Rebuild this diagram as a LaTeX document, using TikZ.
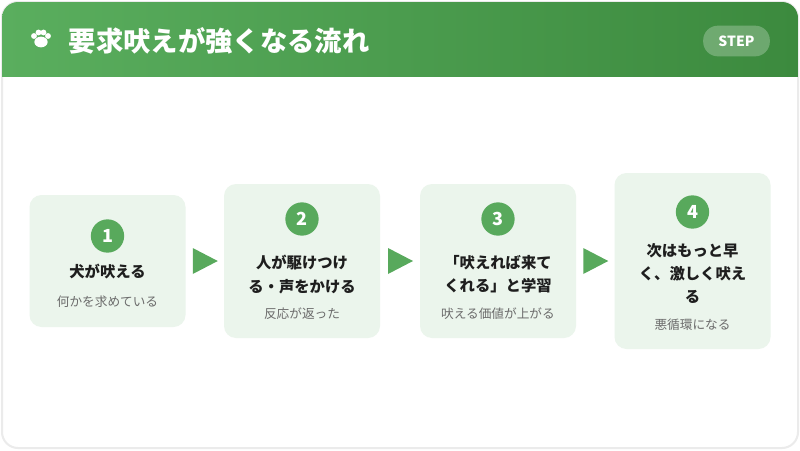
\documentclass[tikz,border=0pt]{standalone}
\usepackage{fontspec}
\setmainfont{Noto Sans CJK JP}
\usetikzlibrary{positioning,calc}
\definecolor{hdgreenA}{HTML}{5AAE5E}
\definecolor{hdgreenB}{HTML}{3C8A3E}
\definecolor{boxbg}{HTML}{EBF5EC}
\definecolor{numgreen}{HTML}{58A95C}
\definecolor{subgray}{HTML}{6B6B6B}
\definecolor{txtdark}{HTML}{1E1E1E}
\tikzset{
  stepbox/.style={fill=boxbg, rounded corners=9pt, minimum width=117pt},
  numdot/.style={circle, fill=numgreen, minimum size=25pt, inner sep=0pt, text=white, font=\bfseries\fontsize{13.5}{13.5}\selectfont},
  steptitle/.style={text=txtdark, align=center, font=\bfseries\fontsize{11.5}{17.5}\selectfont},
  stepsub/.style={text=subgray, font=\fontsize{9.5}{10}\selectfont},
  flowarrow/.style={fill=numgreen}
}
\begin{document}
\begin{tikzpicture}[x=0.75pt,y=-0.75pt]
\useasboundingbox (0,0) rectangle (800,450);
% card and header
\fill[white] (0,0) rectangle (800,450);
\draw[black!8, line width=1.5pt, rounded corners=12pt] (2,2) rectangle (798,448);
\begin{scope}
\clip[rounded corners=12pt] (2,2) rectangle (798,448);
\shade[left color=hdgreenA, right color=hdgreenB] (2,2) rectangle (798,76);
\end{scope}
% paw icon
\fill[white] (41,42) ellipse (5pt and 4pt);
\foreach \px/\py in {34/36, 38.5/32.5, 43.5/32.5, 48/36} \fill[white] (\px,\py) circle (2.2pt);
\node[anchor=west, text=white, font=\bfseries\fontsize{20.5}{20.5}\selectfont] (title) at (64,41) {要求吠えが強くなる流れ};
\node[fill=white, fill opacity=0.25, text opacity=1, text=white, rounded corners=11pt, minimum width=50pt, minimum height=23pt, font=\bfseries\fontsize{10.5}{10.5}\selectfont] (badge) at (736.5,41) {STEP};
% steps
\node[stepbox, minimum height=99pt] (s1) at (107.5,261) {};
\node[stepbox, minimum height=115.5pt] (s2) at (302,261) {};
\node[stepbox, minimum height=115.5pt] (s3) at (498,261) {};
\node[stepbox, minimum height=132pt] (s4) at (692.5,261) {};
\node[numdot] (n1) at (107.5,236) {1};
\node[numdot] (n2) at (302,219) {2};
\node[numdot] (n3) at (498,219) {3};
\node[numdot] (n4) at (692.5,212) {4};
\node[steptitle] (t1) at (107.5,272) {犬が吠える};
\node[steptitle] (t2) at (302,274.5) {人が駆けつけ\\る・声をかける};
\node[steptitle] (t3) at (498,274.5) {「吠えれば来て\\くれる」と学習};
\node[steptitle] (t4) at (692.5,273.5) {次はもっと早\\く、激しく吠え\\る};
\node[stepsub] (d1) at (107.5,302) {何かを求めている};
\node[stepsub] (d2) at (302,314) {反応が返った};
\node[stepsub] (d3) at (498,314) {吠える価値が上がる};
\node[stepsub] (d4) at (692.5,325) {悪循環になる};
% arrows between steps
\foreach \a/\b in {s1/s2, s2/s3, s3/s4}
  \fill[flowarrow] ($(\a.east)!0.5!(\b.west)+(-12,-13)$) -- ++(25,13) -- ++(-25,13) -- cycle;
\end{tikzpicture}
\end{document}
